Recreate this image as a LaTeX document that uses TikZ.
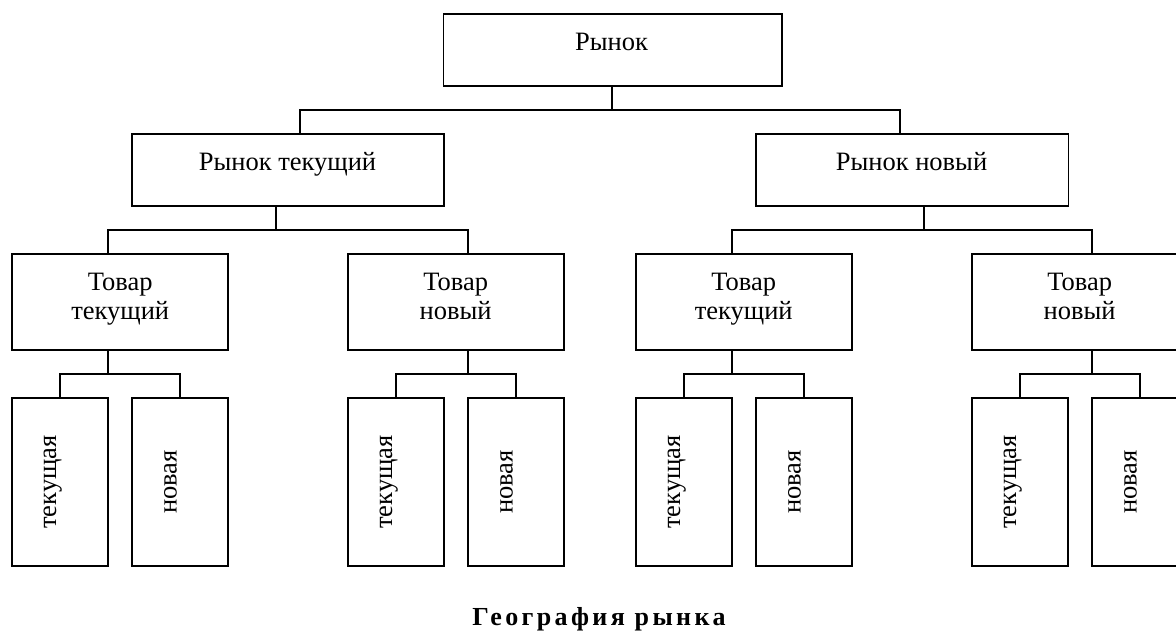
\documentclass[tikz,border=0pt]{standalone}
\usepackage{fontspec}
\setmainfont{Liberation Serif}
\newfontfamily\serifbody{Liberation Serif}
\newfontfamily\titlefont[LetterSpace=13]{Liberation Serif}
\begin{document}
\begin{tikzpicture}[x=1pt,y=-1pt,
  box/.style={draw, line width=1.6pt, rectangle, inner sep=0pt},
  topbox/.style={box, minimum width=312.3pt, minimum height=72pt},
  midbox/.style={box, minimum width=216pt, minimum height=96pt},
  leafbox/.style={box, minimum width=96pt, minimum height=168pt},
  lbl/.style={font=\serifbody\fontsize{26.5}{29.7}\selectfont, inner sep=0pt, align=center, anchor=base},
  vlbl/.style={font=\serifbody\fontsize{26.5}{30}\selectfont, inner sep=0pt, rotate=90, text height=12pt, text depth=12pt},
  conn/.style={line width=1.6pt}]
\useasboundingbox (0,0) rectangle (1176,630);
\begin{scope}
\clip (0,0) rectangle (1176,630);
% level 1
\node[box, minimum width=338.5pt, minimum height=72pt] (b0) at (612.75,50) {};
\node[lbl] (t0) at (611.5,50.7) {Рынок};
% level 2
\node[topbox] (b1) at (287.85,170) {};
\node[topbox] (b2) at (912.15,170) {};
\node[lbl] (t1) at (287.5,170.7) {Рынок текущий};
\node[lbl] (t2) at (911.5,170.7) {Рынок новый};
% level 3
\node[midbox] (c1) at (119.7,302) {};
\node[midbox] (c2) at (455.7,302) {};
\node[midbox] (c3) at (743.7,302) {};
\node[midbox] (c4) at (1079.7,302) {};
\node[lbl] (s1) at (120.2,319.7) {Товар\\текущий};
\node[lbl] (s2) at (455.7,319.7) {Товар\\новый};
\node[lbl] (s3) at (743.7,319.7) {Товар\\текущий};
\node[lbl] (s4) at (1079.7,319.7) {Товар\\новый};
% level 4
\node[leafbox] (d1a) at (59.7,482) {};
\node[leafbox] (d1b) at (179.7,482) {};
\node[leafbox] (d2a) at (395.7,482) {};
\node[leafbox] (d2b) at (515.7,482) {};
\node[leafbox] (d3a) at (683.7,482) {};
\node[leafbox] (d3b) at (803.7,482) {};
\node[leafbox] (d4a) at (1019.7,482) {};
\node[leafbox] (d4b) at (1139.7,482) {};
\node[vlbl] (v1a) at (56.2,482) {текущая};
\node[vlbl] (v1b) at (176.7,482) {новая};
\node[vlbl] (v2a) at (392.2,482) {текущая};
\node[vlbl] (v2b) at (512.7,482) {новая};
\node[vlbl] (v3a) at (680.2,482) {текущая};
\node[vlbl] (v3b) at (800.7,482) {новая};
\node[vlbl] (v4a) at (1016.2,482) {текущая};
\node[vlbl] (v4b) at (1136.7,482) {новая};
% connectors level 1 -> 2
\coordinate (j0) at (612,110);
\coordinate (k1) at (300,110);
\coordinate (k2) at (900,110);
\draw[conn] (b0.south -| j0) -- (j0);
\draw[conn] (b1.north -| k1) -- (k1) -- (k2) -- (b2.north -| k2);
% connectors level 2 -> 3
\coordinate (j1) at (275.7,230);
\coordinate (m1) at (107.7,230);
\coordinate (m2) at (467.7,230);
\draw[conn] (b1.south -| j1) -- (j1);
\draw[conn] (c1.north -| m1) -- (m1) -- (m2) -- (c2.north -| m2);
\coordinate (j2) at (924,230);
\coordinate (m3) at (731.7,230);
\coordinate (m4) at (1092,230);
\draw[conn] (b2.south -| j2) -- (j2);
\draw[conn] (c3.north -| m3) -- (m3) -- (m4) -- (c4.north -| m4);
% connectors level 3 -> 4
\coordinate (n1) at (107.7,374);
\coordinate (n2) at (467.7,374);
\coordinate (n3) at (731.7,374);
\coordinate (n4) at (1092,374);
\draw[conn] (c1.south -| n1) -- (n1);
\draw[conn] (d1a.north) -- (d1a.north |- n1) -- (d1b.north |- n1) -- (d1b.north);
\draw[conn] (c2.south -| n2) -- (n2);
\draw[conn] (d2a.north) -- (d2a.north |- n2) -- (d2b.north |- n2) -- (d2b.north);
\draw[conn] (c3.south -| n3) -- (n3);
\draw[conn] (d3a.north) -- (d3a.north |- n3) -- (d3b.north |- n3) -- (d3b.north);
\draw[conn] (c4.south -| n4) -- (n4);
\draw[conn] (d4a.north) -- (d4a.north |- n4) -- (d4b.north |- n4) -- (d4b.north);
% title
\node[anchor=base, inner sep=0pt, font=\titlefont\bfseries\fontsize{26}{30}\selectfont] (title) at (599,625) {География рынка};
\end{scope}
\end{tikzpicture}
\end{document}
